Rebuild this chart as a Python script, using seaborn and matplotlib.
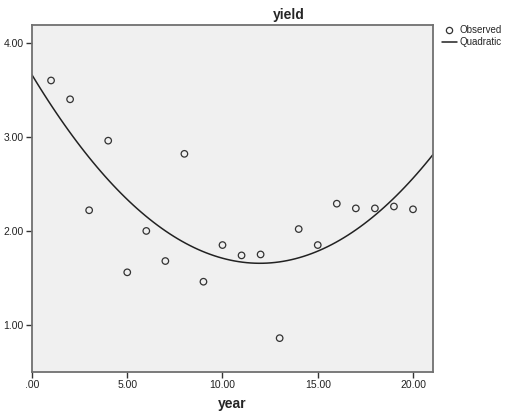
import matplotlib
matplotlib.use("Agg")
import matplotlib.pyplot as plt
from matplotlib.lines import Line2D
from matplotlib.ticker import FuncFormatter
import seaborn as sns
import pandas as pd

sns.set_style("ticks")
plt.rcParams["font.family"] = ["Liberation Sans", "DejaVu Sans"]

year = [1, 2, 3, 4, 5, 6, 7, 8, 9, 10, 11, 12, 13, 14, 15, 16, 17, 18, 19, 20]
yield_values = [3.60, 3.40, 2.22, 2.96, 1.56, 2.00, 1.68, 2.82, 1.46, 1.85,
                1.74, 1.75, 0.86, 2.02, 1.85, 2.29, 2.24, 2.24, 2.26, 2.23]
x_ticks = [0, 5, 10, 15, 20]
y_ticks = [1, 2, 3, 4]

df = pd.DataFrame({"year": year, "yield": yield_values})

fig = plt.figure(figsize=(5.08, 4.19), dpi=100)
ax = fig.add_axes([32 / 508, 1 - 372 / 419, (433 - 32) / 508, (372 - 25) / 419])
ax.set_facecolor("#f0f0f0")
ax.set_xlim(0, 21.05)
ax.set_ylim(0.5, 4.19)

# observed points
sns.scatterplot(data=df, x="year", y="yield", ax=ax, marker="o", s=22,
                facecolor="none", edgecolor="#333333", linewidth=0.9,
                legend=False, zorder=3)
# quadratic fit across the full axis range
sns.regplot(data=df, x="year", y="yield", ax=ax, order=2, ci=None,
            scatter=False, truncate=False,
            line_kws={"color": "#222222", "linewidth": 1.1})

ax.set_xlim(0, 21.05)
ax.set_ylim(0.5, 4.19)
ax.set_xticks(x_ticks)
ax.set_yticks(y_ticks)
fmt = FuncFormatter(lambda v, p: f"{v:.2f}".lstrip("0") if v == 0 else f"{v:.2f}")
ax.xaxis.set_major_formatter(fmt)
ax.yaxis.set_major_formatter(fmt)
ax.tick_params(axis="both", direction="out", length=4, width=1,
               color="#333333", labelsize=7.5, labelcolor="#222222", pad=2)

for s in ax.spines.values():
    s.set_color("#707070")
    s.set_linewidth(1.3)

ax.set_title("yield", fontsize=10, fontweight="bold", pad=4, x=0.64)
ax.set_xlabel("year", fontsize=10, fontweight="bold", labelpad=5)
ax.set_ylabel("")

handles = [
    Line2D([], [], marker="o", linestyle="none", markerfacecolor="none",
           markeredgecolor="#333333", markersize=4.5, markeredgewidth=0.9),
    Line2D([], [], color="#222222", linewidth=1.1),
]
fig.legend(handles, ["Observed", "Quadratic"], loc="upper left",
           bbox_to_anchor=(442 / 508, 1 - 25 / 419), frameon=False,
           fontsize=7, handlelength=1.5, handletextpad=0.35,
           labelspacing=0.2, borderaxespad=0, borderpad=0)

fig.savefig("out.png", dpi=100)
